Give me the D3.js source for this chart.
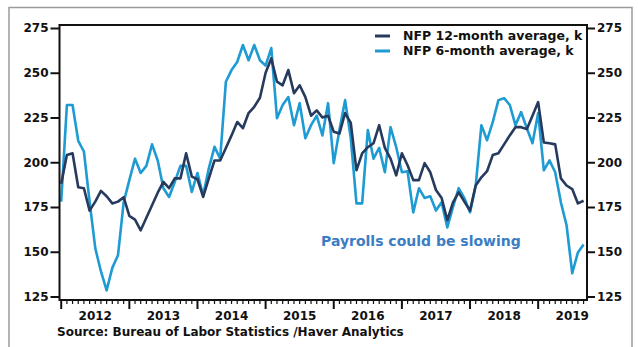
<!DOCTYPE html>
<html><head><meta charset="utf-8">
<script src="https://cdn.jsdelivr.net/npm/d3@7/dist/d3.min.js"></script>
<style>
body{margin:0;background:#fff}
svg{display:block}
text{font-family:"DejaVu Sans",sans-serif;font-weight:bold;fill:#111}
</style>
</head><body>
<svg id="chart" width="638" height="347"></svg>
<script>
// ---- data (monthly, starting Jan 2012) ----
const startYear = 2012;
const yearLabels = ["2012","2013","2014","2015","2016","2017","2018","2019"];
const yTicks = [125,150,175,200,225,250,275];
const seriesNames = ["NFP 12-month average, k","NFP 6-month average, k"];
const nfp12 = [188,204,205,186,185.5,173,178,184,181,177,178,180.5,170,168,162,169,176,183,189,185.5,191,191,205,192,190.5,180.6,191,201,201,208,215,222.5,219,227.5,231,236,250,258,245,243,251.5,238.6,243,236.4,226,229,225,226,217,216,227.5,222,195.5,205,208.4,210.6,220.7,208,202,192.7,205,198.3,190,190,199.5,194.4,184.5,180,167.6,177.6,183.2,178,173,187,191.6,195,204,205,210,215,219.6,219.6,218.5,226,233.6,211,210.6,210,191,187,185,177,178.5];
const nfp6 = [178,232,232,212,206,178,152,139,128.4,141,148,177.6,190,202,194,198,210,201,185.5,180.6,189,198,198,183.4,194,181.5,196.6,208.6,202,245,251.5,256,265.5,257,265.5,257,254,263.8,224.6,232,236.4,220.7,233,213.4,220.7,226,215,233,199.5,218,234.7,213.4,177,177,218,202,208,194.4,219.6,208.4,194.4,195,172,185.5,180,181,173,177.6,163.6,175,185.5,180,172,187,220.7,212.3,222.4,234.7,235.8,232,220.7,228,219,210.6,227.5,195.5,201,194.4,177.6,164.8,138,149.6,154];
const annotation = "Payrolls could be slowing";
const sourceText = "Source:  Bureau of Labor Statistics /Haver Analytics";

const colors = {dark:"#263a5e", light:"#1f9bd3", note:"#3b7dc4"};

const svg = d3.select("#chart");
const L = 59.5, R = 587, T = 25, B = 300;

const x = d3.scaleLinear().domain([-0.3, 92.6]).range([L, R]);
const y = d3.scaleLinear().domain([125, 275]).range([296.5, 28]);

// outer frame
svg.append("rect").attr("x",9).attr("y",7.5).attr("width",623).attr("height",345)
  .attr("fill","none").attr("stroke","#9a9a9a").attr("stroke-width",1.5);

// lines
const line = d3.line().x((d,i)=>x(i)).y(d=>y(d));
svg.append("path").datum(nfp6).attr("d",line).attr("fill","none")
  .attr("stroke",colors.light).attr("stroke-width",2.6).attr("stroke-linejoin","round");
svg.append("path").datum(nfp12).attr("d",line).attr("fill","none")
  .attr("stroke",colors.dark).attr("stroke-width",2.6).attr("stroke-linejoin","round");

// plot box
svg.append("rect").attr("x",L).attr("y",T).attr("width",R-L).attr("height",B-T)
  .attr("fill","none").attr("stroke","#111").attr("stroke-width",2);

// y axes
const yl = svg.append("g").attr("transform",`translate(${L},0)`)
  .call(d3.axisLeft(y).tickValues(yTicks).tickSize(9).tickSizeOuter(0).tickPadding(2));
const yr = svg.append("g").attr("transform",`translate(${R},0)`)
  .call(d3.axisRight(y).tickValues(yTicks).tickSize(8).tickSizeOuter(0).tickPadding(2));
[yl,yr].forEach(g=>{
  g.select(".domain").remove();
  g.selectAll(".tick line").attr("stroke","#111").attr("stroke-width",2);
  g.selectAll(".tick text").attr("font-size",12).attr("font-family","DejaVu Sans").attr("font-weight","bold").attr("fill","#111");
});

// x axis: monthly minor ticks, yearly major ticks, labels centred in each year
const months = d3.range(0, 93);
const xg = svg.append("g").attr("transform",`translate(0,${B})`);
xg.selectAll("line.m").data(months).join("line")
  .attr("x1",d=>x(d)).attr("x2",d=>x(d)).attr("y1",0)
  .attr("y2",d=> d%12===0 ? 9 : 4)
  .attr("stroke","#111").attr("stroke-width",d=> d%12===0 ? 2 : 1.2);
xg.selectAll("text").data(yearLabels).join("text")
  .attr("x",(d,i)=>x(i*12+6)).attr("y",20).attr("text-anchor","middle")
  .attr("font-size",12).text(d=>d);

// legend
const leg = svg.append("g");
[[seriesNames[0],colors.dark,36],[seriesNames[1],colors.light,51]].forEach(([t,c,yy])=>{
  leg.append("line").attr("x1",375).attr("x2",390).attr("y1",yy).attr("y2",yy)
    .attr("stroke",c).attr("stroke-width",3);
  leg.append("text").attr("x",403).attr("y",yy+3.5).attr("font-size",12.5).text(t);
});

// annotation
svg.append("text").attr("x",321).attr("y",246).attr("font-size",14)
  .style("fill",colors.note).text(annotation);

// source
svg.append("text").attr("x",57).attr("y",336).attr("font-size",12).text(sourceText);
</script>
</body></html>
